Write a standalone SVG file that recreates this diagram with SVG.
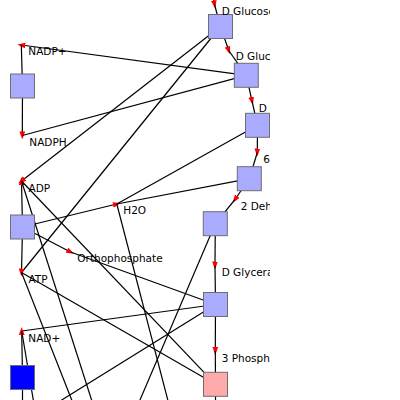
<svg xmlns="http://www.w3.org/2000/svg" width="400" height="400" viewBox="0 0 400 400">
<defs>
<style>
.r{fill:#aaaaff;stroke:#6e6e6e;stroke-width:1}
.p{fill:#ffaaaa}
.b{fill:#0000ff}
.e{stroke:#000;stroke-width:1.2;fill:none}
.a{marker-end:url(#arr)}
text{font-family:"DejaVu Sans",Verdana,sans-serif;font-size:10.5px;fill:#000}
</style>
<marker id="arr" markerUnits="userSpaceOnUse" markerWidth="8" markerHeight="6" refX="3.5" refY="2.5" orient="auto" viewBox="0 0 7 5">
<path d="M0,0 L7,2.5 L0,5 Z" fill="#ff0000"/>
</marker>
<clipPath id="clip"><rect x="0" y="0" width="270" height="400"/></clipPath>
</defs>
<rect width="400" height="400" fill="#fff"/>
<g clip-path="url(#clip)">
<g id="connectors">
<path class="e a" d="M213,-4 L214.5,4.5"/>
<path class="e" d="M214.5,4.5 L220.5,26.5"/>
<path class="e a" d="M220.5,26.5 L228.7,50.5"/>
<path class="e" d="M228.7,50.5 L246.3,75.3"/>
<path class="e a" d="M246.3,75.3 L252,101"/>
<path class="e" d="M252,101 L257.5,125.3"/>
<path class="e a" d="M257.5,125.3 L257.3,152.5"/>
<path class="e" d="M257.3,152.5 L249.3,178.7"/>
<path class="e a" d="M249.3,178.7 L235,199.5"/>
<path class="e" d="M235,199.5 L215.3,223.7"/>
<path class="e a" d="M215.3,223.7 L215,265.5"/>
<path class="e" d="M215,265.5 L215.5,304.5"/>
<path class="e a" d="M215.5,304.5 L215.3,351"/>
<path class="e" d="M215.3,351 L215.5,384.3"/>
<path class="e" d="M215.5,384.3 L215.5,410"/>
<path class="e a" d="M246.3,75.3 L21.3,45"/>
<path class="e" d="M22.5,86 L21.3,45"/>
<path class="e a" d="M22.5,86 L22.3,135.5"/>
<path class="e" d="M22.3,135.5 L246.3,75.3"/>
<path class="e a" d="M220.5,26.5 L21.5,181"/>
<path class="e" d="M21.5,272.5 L220.5,26.5"/>
<path class="e a" d="M22.5,227 L21.5,181"/>
<path class="e a" d="M22.5,227 L21.5,272.5"/>
<path class="e a" d="M22.5,227 L116.8,204"/>
<path class="e a" d="M22.5,227 L70.5,252"/>
<path class="e" d="M116.8,204 L257.5,125.3"/>
<path class="e" d="M116.8,204 L249.3,178.7"/>
<path class="e" d="M116.8,204 L170.4,410"/>
<path class="e" d="M70.5,252 L215.5,304.5"/>
<path class="e" d="M21.7,331 L215.5,304.5"/>
<path class="e" d="M21.5,181 L215.5,384.3"/>
<path class="e" d="M21.5,272.5 L215.5,384.3"/>
<path class="e" d="M21.5,181 L94.8,410"/>
<path class="e" d="M21.5,272.5 L75.7,410"/>
<path class="e a" d="M22.5,377.5 L21.7,331"/>
<path class="e" d="M21.7,331 L35,410"/>
<path class="e" d="M22.5,377.5 L22.5,410"/>
<path class="e" d="M215.3,223.7 L135.7,410"/>
<path class="e" d="M215.5,304.5 L45.6,410"/>
</g>
<g id="nodes">
<g id="r-nadp"><rect class="r" x="10.5" y="74" width="24" height="24"/></g>
<g id="r-atp"><rect class="r" x="10.5" y="215" width="24" height="24"/></g>
<g id="r-nad"><rect class="r b" x="10.5" y="365.5" width="24" height="24"/></g>
<g id="r1"><rect class="r" x="208.5" y="14.5" width="24" height="24"/></g>
<g id="r2"><rect class="r" x="234.3" y="63.3" width="24" height="24"/></g>
<g id="r3"><rect class="r" x="245.5" y="113.3" width="24" height="24"/></g>
<g id="r4"><rect class="r" x="237.3" y="166.7" width="24" height="24"/></g>
<g id="r5"><rect class="r" x="203.3" y="211.7" width="24" height="24"/></g>
<g id="r6"><rect class="r" x="203.5" y="292.5" width="24" height="24"/></g>
<g id="r7"><rect class="r p" x="203.5" y="372.3" width="24" height="24"/></g>
<g id="m-nadp"><text x="28.3" y="55">NADP+</text></g>
<g id="m-nadph"><text x="29.3" y="145.5">NADPH</text></g>
<g id="m-adp"><text x="28.5" y="191.7">ADP</text></g>
<g id="m-h2o"><text x="123.3" y="214">H2O</text></g>
<g id="m-pi"><text x="77.3" y="261.7">Orthophosphate</text></g>
<g id="m-atp"><text x="28.5" y="282.5">ATP</text></g>
<g id="m-nad"><text x="28.3" y="342">NAD+</text></g>
<g id="m1"><text x="221.7" y="15">D Glucose</text></g>
<g id="m2"><text x="235.7" y="60">D Gluc</text></g>
<g id="m3"><text x="258.8" y="111.7">D</text></g>
<g id="m4"><text x="263.3" y="162.5">6</text></g>
<g id="m5"><text x="240.7" y="210">2 Deh</text></g>
<g id="m6"><text x="221.7" y="276">D Glycera</text></g>
<g id="m7"><text x="221.7" y="362">3 Phosph</text></g>
</g>
</g>
</svg>
